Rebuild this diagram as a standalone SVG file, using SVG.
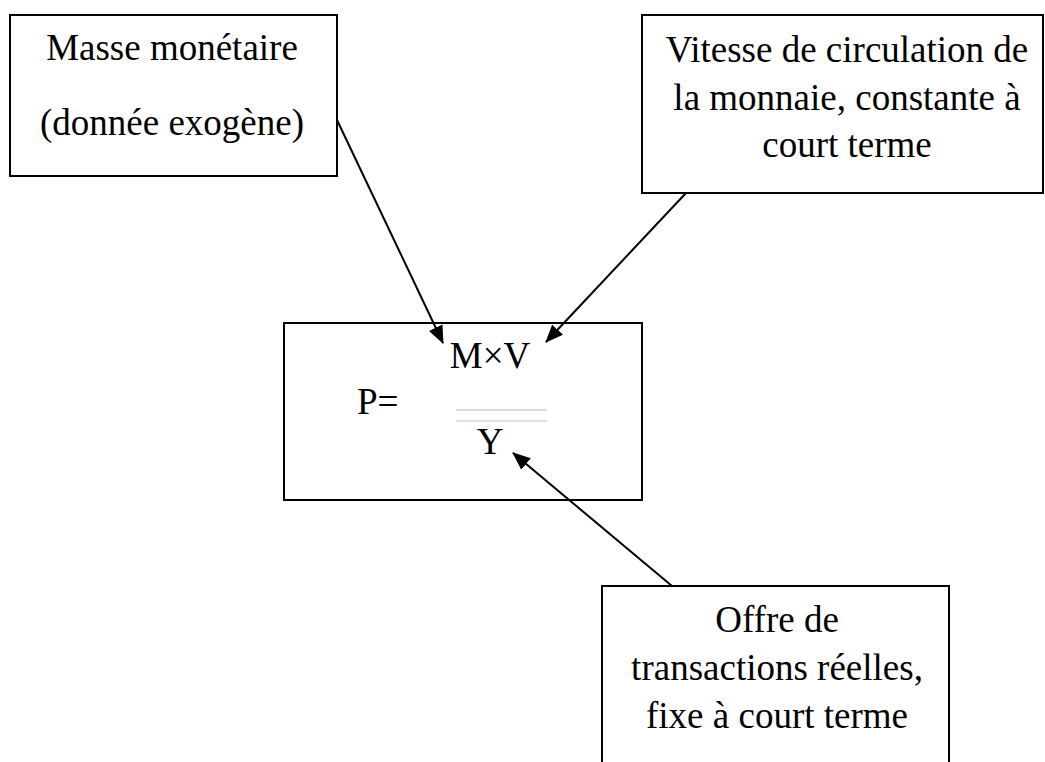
<svg xmlns="http://www.w3.org/2000/svg" width="1045" height="762" viewBox="0 0 1045 762">
  <style>
    .box { fill: #ffffff; stroke: #000000; stroke-width: 2; }
    .t { font-family: "Liberation Serif", "Times New Roman", serif; font-size: 37px; fill: #000000; text-anchor: middle; }
    .link { stroke: #000000; stroke-width: 2; fill: none; marker-end: url(#arrow); }
    .bar { stroke: #bbbbbb; stroke-width: 1; }
  </style>
  <defs>
    <marker id="arrow" viewBox="0 0 18 15" refX="17" refY="7.5" markerWidth="18" markerHeight="15" markerUnits="userSpaceOnUse" orient="auto">
      <path d="M0,0 L18,7.5 L0,15 z" fill="#000000"/>
    </marker>
  </defs>

  <rect width="1045" height="762" fill="#ffffff"/>

  <g id="masse">
    <rect class="box" x="10" y="15" width="327" height="161"/>
    <text class="t" x="172" y="60">Masse monétaire</text>
    <text class="t" x="172" y="135">(donnée exogène)</text>
  </g>

  <g id="vitesse">
    <rect class="box" x="642" y="15" width="401" height="178"/>
    <text class="t" x="847" y="62">Vitesse de circulation de</text>
    <text class="t" x="847" y="110">la monnaie, constante à</text>
    <text class="t" x="847" y="157">court terme</text>
  </g>

  <g id="formule">
    <rect class="box" x="284" y="323" width="358" height="177"/>
    <text class="t" x="490" y="368">M×V</text>
    <text class="t" x="357" y="414" style="text-anchor:start">P=</text>
    <line class="bar" x1="456" y1="410" x2="547" y2="410"/>
    <line class="bar" x1="456" y1="421" x2="547" y2="421"/>
    <text class="t" x="490" y="454">Y</text>
  </g>

  <g id="offre">
    <rect class="box" x="602" y="586" width="347" height="190"/>
    <text class="t" x="777" y="632">Offre de</text>
    <text class="t" x="777" y="680">transactions réelles,</text>
    <text class="t" x="777" y="728">fixe à court terme</text>
  </g>

  <g id="connectors">
    <line class="link" x1="337" y1="120" x2="443" y2="343"/>
    <line class="link" x1="686" y1="193" x2="546" y2="342"/>
    <line class="link" x1="672" y1="586" x2="513" y2="453"/>
  </g>
</svg>
